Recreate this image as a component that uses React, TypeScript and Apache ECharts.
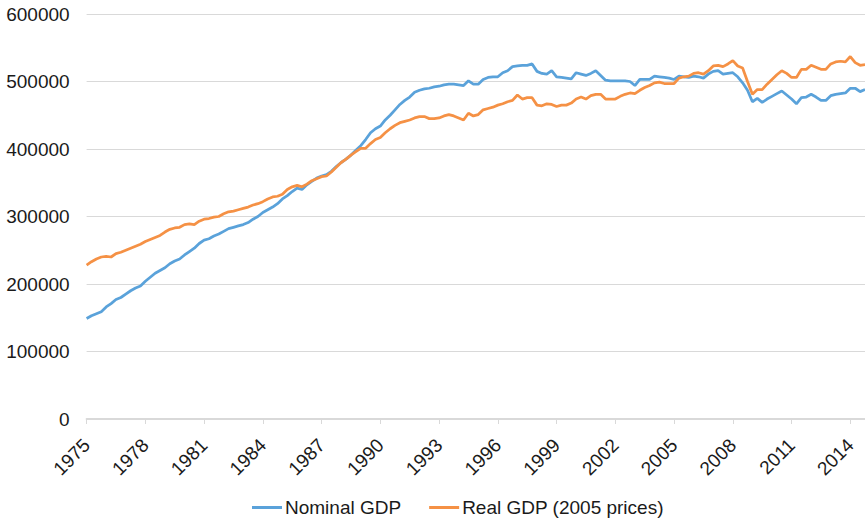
import React, { useEffect, useRef } from "react";
import * as echarts from "echarts";

const startYear = 1975;
const endYear = 2014;
const quarters: string[] = [];
for (let y = startYear; y <= endYear; y++) {
  for (let q = 1; q <= 4; q++) quarters.push(`${y}Q${q}`);
}

const yTicks = [0, 100000, 200000, 300000, 400000, 500000, 600000];

// Nominal GDP (thousands), quarterly 1975Q1 - 2014Q4
const nominalK = [
  149, 153, 156, 159, 166, 171, 177, 180, 185, 190, 194, 197,
  204, 210, 216, 220, 224, 230, 234, 237, 243, 248, 253, 260,
  265, 267, 271, 274, 278, 282, 284, 286, 288, 291, 296, 300,
  306, 310, 314, 319, 326, 331, 337, 342, 340, 347, 352, 357,
  360, 362, 367, 374, 380, 385, 391, 398, 405, 414, 424, 430,
  434, 443, 450, 458, 466, 472, 477, 484, 487, 489, 490, 492,
  493, 495, 496, 496, 495, 494, 501, 496, 496, 503, 506, 507,
  507, 513, 516, 522, 523, 524, 524, 526, 515, 512, 511, 516,
  507, 506, 505, 504, 513, 511, 509, 512, 516, 509, 502, 501,
  501, 501, 501, 500, 494, 503, 503, 503, 508, 507, 506, 505,
  503, 508, 507, 506, 508, 507, 505, 511, 515, 516, 511, 512,
  513, 507, 498, 487, 470, 475, 469, 474, 478, 482, 486, 480,
  474, 467, 476, 477, 481, 477, 472, 472, 479, 481, 482, 483,
  490, 490, 485, 488,
];

// Real GDP, 2005 prices (thousands), quarterly 1975Q1 - 2014Q4
const realK = [
  228, 233, 237, 240, 241, 240, 245, 247, 250, 253, 256, 259,
  263, 266, 269, 272, 277, 281, 283, 284, 288, 289, 288, 293,
  296, 297, 299, 300, 304, 307, 308, 310, 312, 314, 317, 319,
  322, 326, 329, 330, 333, 340, 344, 346, 344, 348, 353, 356,
  359, 360, 366, 373, 380, 385, 391, 396, 401, 401, 408, 414,
  417, 424, 430, 435, 439, 441, 443, 446, 448, 448, 445, 445,
  446, 449, 451, 449, 446, 443, 453, 449, 451, 458, 460, 462,
  465, 467, 470, 472, 480, 474, 476, 476, 465, 464, 467, 466,
  463, 465, 465, 468, 474, 477, 474, 479, 481, 481, 474, 474,
  474, 478, 481, 483, 482, 487, 491, 494, 498, 499, 497, 497,
  497, 505, 507, 508, 512, 513, 511, 516, 523, 524, 522, 526,
  531, 523, 520, 500, 481, 488, 488, 496, 503, 510, 516, 512,
  506, 506, 518, 518, 524, 521, 518, 518, 526, 529, 530, 529,
  537, 528, 524, 525,
];

const nominal = nominalK.map((v) => v * 1000);
const real = realK.map((v) => v * 1000);

const FONT = "'Liberation Sans', Arial, sans-serif";
const TEXT = "#1a1a1a";

export default function App() {
  const ref = useRef<HTMLDivElement>(null);
  useEffect(() => {
    if (!ref.current) return;
    const chart = echarts.init(ref.current, undefined, { renderer: "svg" });
    chart.setOption({
      animation: false,
      backgroundColor: "#ffffff",
      textStyle: { fontFamily: FONT },
      grid: { left: 86.6, right: 0, top: 14, bottom: 103, containLabel: false },
      legend: {
        top: 493,
        left: 247,
        itemWidth: 30,
        itemHeight: 3,
        itemGap: 28,
        icon: "rect",
        textStyle: { fontSize: 19, color: TEXT, fontFamily: FONT, padding: [0, 0, 0, -2] },
        data: ["Nominal GDP", "Real GDP (2005 prices)"],
      },
      xAxis: {
        type: "category",
        data: quarters,
        boundaryGap: false,
        axisLine: { lineStyle: { color: "#d9d9d9", width: 2 } },
        axisTick: { interval: 11, length: 5, lineStyle: { color: "#d9d9d9", width: 1 } },
        axisLabel: {
          interval: 11,
          rotate: 45,
          margin: 23,
          fontSize: 19,
          color: TEXT,
          fontFamily: FONT,
          formatter: (v: string) => v.slice(0, 4),
        },
        splitLine: { show: false },
      },
      yAxis: {
        type: "value",
        min: yTicks[0],
        max: yTicks[yTicks.length - 1],
        interval: yTicks[1] - yTicks[0],
        axisLine: { show: false },
        axisTick: { show: false },
        axisLabel: {
          fontSize: 19,
          color: TEXT,
          margin: 17,
          fontFamily: FONT,
          formatter: (v: number) => String(v),
        },
        splitLine: { lineStyle: { color: "#d9d9d9", width: 1 } },
      },
      series: [
        {
          name: "Nominal GDP",
          type: "line",
          data: nominal,
          showSymbol: false,
          symbol: "none",
          lineStyle: { color: "#5AA2DA", width: 2.75 },
          itemStyle: { color: "#5AA2DA" },
        },
        {
          name: "Real GDP (2005 prices)",
          type: "line",
          data: real,
          showSymbol: false,
          symbol: "none",
          lineStyle: { color: "#F59145", width: 2.75 },
          itemStyle: { color: "#F59145" },
        },
      ],
    });
    return () => chart.dispose();
  }, []);
  return (
    <div
      ref={ref}
      style={{ position: "absolute", left: 0, top: 0, width: 865, height: 522 }}
    />
  );
}
